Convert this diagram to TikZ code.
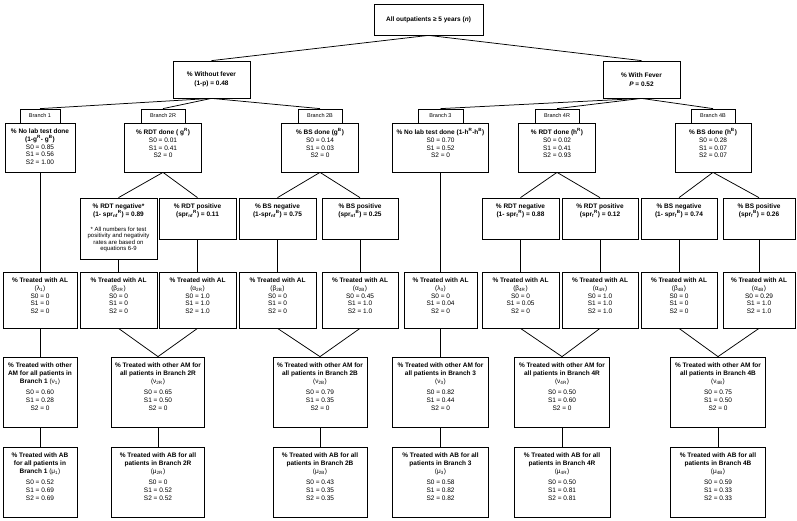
\documentclass[tikz,border=0pt]{standalone}
\usepackage{fontspec}
\setmainfont{Liberation Sans}
\newcommand\tsup[1]{\textsuperscript{#1}}
\newcommand\tsub[1]{\textsubscript{#1}}
\newcommand\spr[2]{spr\textsubscript{#1}\textsuperscript{#2}}
\newcommand\fnote{\parbox[t]{72pt}{\centering\fontsize{6}{6.5}\selectfont * All numbers for test\\positivity and negativity\\rates are based on\\equations 6-9}}
\tikzset{
  bx/.style={draw=black, line width=0.75pt, inner sep=0pt},
  tx/.style={anchor=north, align=center, inner sep=0pt, yshift=-6pt, font=\fontsize{6.5}{7.8}\selectfont},
  cn/.style={draw=black, line width=0.75pt},
  brl/.style={bx, minimum height=14, font=\fontsize{5.5}{6}\selectfont},
  ctr/.style={bx, align=center, font=\fontsize{6.5}{9}\selectfont\bfseries},
}
\newcommand\mybox[6]{\node[bx, minimum width=#4, minimum height=#5, label={[tx]north:{#6}}] (#1) at (#2,#3) {};}
\begin{document}
\begin{tikzpicture}[x=1pt,y=-1pt]
\useasboundingbox (0,0) rectangle (797,520);
% top
\node[ctr, minimum width=109, minimum height=31] (root) at (428.5,19.5) {All outpatients ≥ 5 years (\textit{n})};
\node[ctr, minimum width=77, minimum height=37] (nf) at (211.5,79.5) {\% Without fever\\(1-p) = 0.48};
\node[ctr, minimum width=77, minimum height=37] (fv) at (641.5,79.5) {\% With Fever\\\textit{P} = 0.52};
% branch labels
\node[brl, minimum width=40] (lab1) at (40,116) {Branch 1};
\node[brl, minimum width=44] (lab2R) at (163,116) {Branch 2R};
\node[brl, minimum width=44] (lab2B) at (320,116) {Branch 2B};
\node[brl, minimum width=45] (lab3) at (440.5,116) {Branch 3};
\node[brl, minimum width=44] (lab4R) at (557,116) {Branch 4R};
\node[brl, minimum width=44] (lab4B) at (713,116) {Branch 4B};
% level 1
\mybox{b1}{40}{147.5}{70}{49}{\textbf{\% No lab test done}\\\textbf{(1-g\tsup{R}- g\tsup{B})}\\S0 = 0.85\\S1 = 0.56\\S2 = 1.00}
\mybox{b2R}{163}{147.5}{77}{49}{\textbf{\% RDT done ( g\tsup{R})}\\S0 = 0.01\\S1 = 0.41\\S2 = 0}
\mybox{b2B}{320}{147.5}{77}{49}{\textbf{\% BS done (g\tsup{B})}\\S0 = 0.14\\S1 = 0.03\\S2 = 0}
\mybox{b3}{440.5}{147.5}{96}{49}{\textbf{\% No lab test done (1-h\tsup{R}-h\tsup{B})}\\S0 = 0.70\\S1 = 0.52\\S2 = 0}
\mybox{b4R}{557}{147.5}{77}{49}{\textbf{\% RDT done (h\tsup{R})}\\S0 = 0.02\\S1 = 0.41\\S2 = 0.93}
\mybox{b4B}{713}{147.5}{76}{49}{\textbf{\% BS done (h\tsup{B})}\\S0 = 0.28\\S1 = 0.07\\S2 = 0.07}
% level 2
\mybox{rn1}{118.5}{228.5}{77}{61}{\textbf{\% RDT negative*}\\\textbf{(1- \spr{nf}{R}) = 0.89}\\[7pt]\fnote}
\mybox{rp1}{197.5}{218.5}{77}{41}{\textbf{\% RDT positive}\\\textbf{(\spr{nf}{R}) = 0.11}}
\mybox{bn1}{277.5}{218.5}{77}{41}{\textbf{\% BS negative}\\\textbf{(1-\spr{nf}{B}) = 0.75}}
\mybox{bp1}{360}{218.5}{76}{41}{\textbf{\% BS positive}\\\textbf{(\spr{nf}{B}) = 0.25}}
\mybox{rn2}{520.5}{218.5}{77}{41}{\textbf{\% RDT negative}\\\textbf{(1- \spr{f}{R}) = 0.88}}
\mybox{rp2}{600}{218.5}{76}{41}{\textbf{\% RDT positive}\\\textbf{(\spr{f}{R}) = 0.12}}
\mybox{bn2}{679}{218.5}{76}{41}{\textbf{\% BS negative}\\\textbf{(1- \spr{f}{B}) = 0.74}}
\mybox{bp2}{759}{218.5}{72}{41}{\textbf{\% BS positive}\\\textbf{(\spr{f}{B}) = 0.26}}
% AL
\mybox{al1}{40}{300}{74}{56}{\textbf{\% Treated with AL}\\(λ\tsub{1})\\S0 = 0\\S1 = 0\\S2 = 0}
\mybox{al2}{118.5}{300}{77}{56}{\textbf{\% Treated with AL}\\(β\tsub{2R})\\S0 = 0\\S1 = 0\\S2 = 0}
\mybox{al3}{197.5}{300}{77}{56}{\textbf{\% Treated with AL}\\(α\tsub{2R})\\S0 = 1.0\\S1 = 1.0\\S2 = 1.0}
\mybox{al4}{277.5}{300}{77}{56}{\textbf{\% Treated with AL}\\(β\tsub{2B})\\S0 = 0\\S1 = 0\\S2 = 0}
\mybox{al5}{360}{300}{76}{56}{\textbf{\% Treated with AL}\\(α\tsub{2B})\\S0 = 0.45\\S1 = 1.0\\S2 = 1.0}
\mybox{al6}{440.5}{300}{73}{56}{\textbf{\% Treated with AL}\\(λ\tsub{3})\\S0 = 0\\S1 = 0.04\\S2 = 0}
\mybox{al7}{520.5}{300}{77}{56}{\textbf{\% Treated with AL}\\(β\tsub{4R})\\S0 = 0\\S1 = 0.05\\S2 = 0}
\mybox{al8}{600}{300}{76}{56}{\textbf{\% Treated with AL}\\(α\tsub{4R})\\S0 = 1.0\\S1 = 1.0\\S2 = 1.0}
\mybox{al9}{679}{300}{76}{56}{\textbf{\% Treated with AL}\\(β\tsub{4B})\\S0 = 0\\S1 = 0\\S2 = 0}
\mybox{al10}{759}{300}{72}{56}{\textbf{\% Treated with AL}\\(α\tsub{4B})\\S0 = 0.29\\S1 = 1.0\\S2 = 1.0}
% other AM
\mybox{am1}{40}{392}{74}{70}{\textbf{\% Treated with other}\\\textbf{AM for all patients in}\\\textbf{Branch 1} (ν\tsub{1})\\[4pt]S0 = 0.60\\S1 = 0.28\\S2 = 0}
\mybox{am2R}{158}{392}{93}{70}{\textbf{\% Treated with other AM for}\\\textbf{all patients in Branch 2R}\\(ν\tsub{2R})\\[4pt]S0 = 0.65\\S1 = 0.50\\S2 = 0}
\mybox{am2B}{320}{392}{94}{70}{\textbf{\% Treated with other AM for}\\\textbf{all patients in Branch 2B}\\(ν\tsub{2B})\\[4pt]S0 = 0.79\\S1 = 0.35\\S2 = 0}
\mybox{am3}{440.5}{392}{96}{70}{\textbf{\% Treated with other AM for}\\\textbf{all patients in Branch 3}\\(ν\tsub{3})\\[4pt]S0 = 0.82\\S1 = 0.44\\S2 = 0}
\mybox{am4R}{562}{392}{95}{70}{\textbf{\% Treated with other AM for}\\\textbf{all patients in Branch 4R}\\(ν\tsub{4R})\\[4pt]S0 = 0.50\\S1 = 0.60\\S2 = 0}
\mybox{am4B}{718}{392}{95}{70}{\textbf{\% Treated with other AM for}\\\textbf{all patients in Branch 4B}\\(ν\tsub{4B})\\[4pt]S0 = 0.75\\S1 = 0.50\\S2 = 0}
% AB
\mybox{ab1}{40}{482}{74}{70}{\textbf{\% Treated with AB}\\\textbf{for all patients in}\\\textbf{Branch 1} (μ\tsub{1})\\[4pt]S0 = 0.52\\S1 = 0.69\\S2 = 0.69}
\mybox{ab2R}{158}{482}{93}{70}{\textbf{\% Treated with AB for all}\\\textbf{patients in Branch 2R}\\(μ\tsub{2R})\\[4pt]S0 = 0\\S1 = 0.52\\S2 = 0.52}
\mybox{ab2B}{320}{482}{94}{70}{\textbf{\% Treated with AB for all}\\\textbf{patients in Branch 2B}\\(μ\tsub{2B})\\[4pt]S0 = 0.43\\S1 = 0.35\\S2 = 0.35}
\mybox{ab3}{440.5}{482}{96}{70}{\textbf{\% Treated with AB for all}\\\textbf{patients in Branch 3}\\(μ\tsub{3})\\[4pt]S0 = 0.58\\S1 = 0.82\\S2 = 0.82}
\mybox{ab4R}{562}{482}{96}{70}{\textbf{\% Treated with AB for all}\\\textbf{patients in Branch 4R}\\(μ\tsub{4R})\\[4pt]S0 = 0.50\\S1 = 0.81\\S2 = 0.81}
\mybox{ab4B}{718}{482}{95}{70}{\textbf{\% Treated with AB for all}\\\textbf{patients in Branch 4B}\\(μ\tsub{4B})\\[4pt]S0 = 0.59\\S1 = 0.33\\S2 = 0.33}
% connectors
\draw[cn] (root.south) -- (nf.north);
\draw[cn] (root.south) -- (fv.north);
\foreach \t in {lab1,lab2R,lab2B} \draw[cn] (nf.south) -- (\t.north);
\foreach \t in {lab3,lab4R,lab4B} \draw[cn] (fv.south) -- (\t.north);
\draw[cn] (b1.south) -- (al1.north);
\draw[cn] (b3.south) -- (al6.north);
\draw[cn] (b2R.south) -- (rn1.north);
\draw[cn] (b2R.south) -- (rp1.north);
\draw[cn] (b2B.south) -- (bn1.north);
\draw[cn] (b2B.south) -- (bp1.north);
\draw[cn] (b4R.south) -- (rn2.north);
\draw[cn] (b4R.south) -- (rp2.north);
\draw[cn] (b4B.south) -- (bn2.north);
\draw[cn] (b4B.south) -- (bp2.north);
\draw[cn] (rn1.south) -- (al2.north);
\draw[cn] (rp1.south) -- (al3.north);
\draw[cn] (bn1.south) -- (al4.north);
\draw[cn] (bp1.south) -- (al5.north);
\draw[cn] (rn2.south) -- (al7.north);
\draw[cn] (rp2.south) -- (al8.north);
\draw[cn] (bn2.south) -- (al9.north);
\draw[cn] (bp2.south) -- (al10.north);
\draw[cn] (al1.south) -- (am1.north);
\draw[cn] (al2.south) -- (am2R.north);
\draw[cn] (al3.south) -- (am2R.north);
\draw[cn] (al4.south) -- (am2B.north);
\draw[cn] (al5.south) -- (am2B.north);
\draw[cn] (al6.south) -- (am3.north);
\draw[cn] (al7.south) -- (am4R.north);
\draw[cn] (al8.south) -- (am4R.north);
\draw[cn] (al9.south) -- (am4B.north);
\draw[cn] (al10.south) -- (am4B.north);
\foreach \a/\b in {am1/ab1,am2R/ab2R,am2B/ab2B,am3/ab3,am4R/ab4R,am4B/ab4B} \draw[cn] (\a.south) -- (\b.north);
\end{tikzpicture}
\end{document}
